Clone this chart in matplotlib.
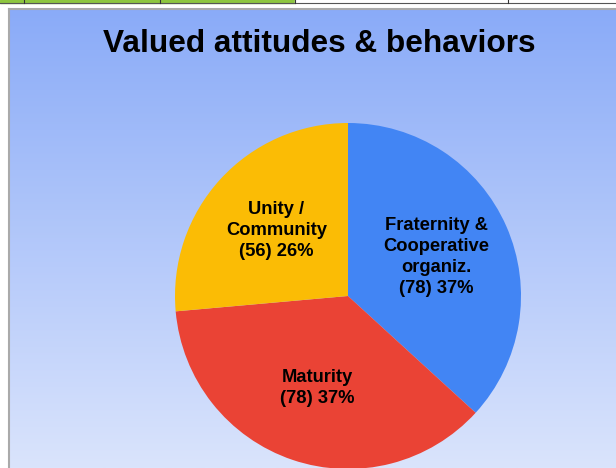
import matplotlib
matplotlib.use("Agg")
import matplotlib.pyplot as plt
import numpy as np
from matplotlib.patches import Rectangle
from matplotlib.lines import Line2D

categories = ["Fraternity &\nCooperative\norganiz.", "Maturity", "Unity /\nCommunity"]
counts = [78, 78, 56]
colors = ["#4285f4", "#ea4335", "#fbbc05"]
title = "Valued attitudes & behaviors"

W, H = 616, 468
fig = plt.figure(figsize=(W / 100, H / 100), dpi=100)
fig.patch.set_facecolor("white")

# spreadsheet strip at top
for x0, x1, c in [(0, 295, "#8dc63f"), (295, 616, "#ffffff")]:
    fig.patches.append(Rectangle((x0 / W, 1 - 3 / H), (x1 - x0) / W, 3 / H,
                                 transform=fig.transFigure, color=c, zorder=0))
fig.lines.append(Line2D([0, 1], [1 - 3 / H, 1 - 3 / H], transform=fig.transFigure,
                        color="#555555", lw=0.8))
for xv in [24, 160, 295, 508]:
    fig.lines.append(Line2D([xv / W, xv / W], [1 - 3 / H, 1], transform=fig.transFigure,
                            color="#333333", lw=0.8))

# chart area with gradient background
cx0, cy0 = 9, 9
bg = fig.add_axes([cx0 / W, 0, 1 - cx0 / W, 1 - cy0 / H])
top = np.array([0x8a, 0xab, 0xf8]) / 255
bot = np.array([0xda, 0xe4, 0xfc]) / 255
t = np.linspace(0, 1, 256)[:, None]
grad = (top[None, :] * (1 - t) + bot[None, :] * t)[:, None, :]
bg.imshow(grad, aspect="auto", extent=[0, 1, 0, 1], origin="upper")
bg.set_xlim(0, 1); bg.set_ylim(0, 1)
bg.set_xticks([]); bg.set_yticks([])
for s in bg.spines.values():
    s.set_color("#aaaaaa"); s.set_linewidth(1.5)
bg.spines["right"].set_visible(False)
bg.spines["bottom"].set_visible(False)

fig.text(319 / W, 1 - 43.5 / H, title, ha="center", va="center",
         fontsize=22.8, fontweight="bold", family="Liberation Sans", color="black")

# pie
cxp, cyp, r = 348, 296, 173
ax = fig.add_axes([(cxp - r) / W, 1 - (cyp + r) / H, 2 * r / W, 2 * r / H])
ax.set_aspect("equal")
total = sum(counts)
labels = [f"{c}\n({n}) {round(100 * n / total)}%" for c, n in zip(categories, counts)]
wedges, texts = ax.pie(counts, colors=colors, startangle=90, counterclock=False,
                       labels=labels, labeldistance=0.56,
                       textprops=dict(fontsize=13.2, fontweight="bold",
                                      family="Liberation Sans", ha="center",
                                      va="center", linespacing=1.3),
                       wedgeprops=dict(linewidth=0))
for tx in texts:
    tx.set_ha("center")
ax.set_xlim(-1, 1); ax.set_ylim(-1, 1)
ax.axis("off")

fig.savefig("out.png", dpi=100)
